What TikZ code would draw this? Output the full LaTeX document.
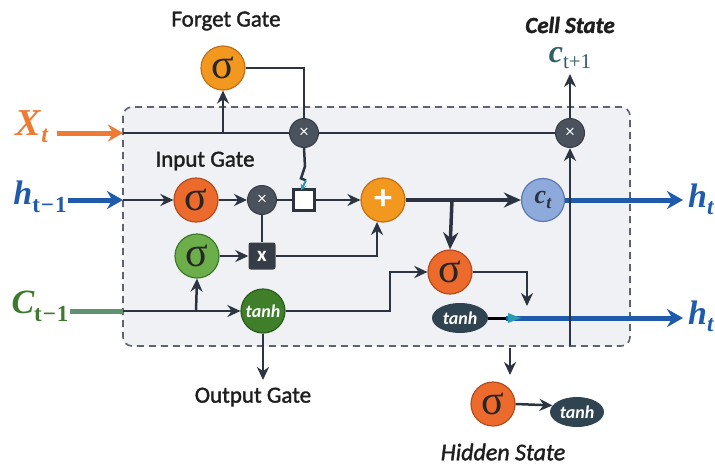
\documentclass[tikz,border=0pt]{standalone}
\usepackage{fontspec}
\setmainfont{Carlito}
\newfontfamily\semib{Carlito}[FakeBold=1.6]
\newfontfamily\symfont{Liberation Serif}
\usetikzlibrary{arrows.meta,shapes.geometric,calc}

\definecolor{lineC}{HTML}{2B3440}
\definecolor{boxfill}{HTML}{EFF1F4}
\definecolor{boxdash}{HTML}{5C6472}
\definecolor{orF}{HTML}{F3981F}
\definecolor{orD}{HTML}{C0701A}
\definecolor{orrF}{HTML}{EC6A2C}
\definecolor{orrD}{HTML}{B54C1F}
\definecolor{grF}{HTML}{6CAE4A}
\definecolor{grD}{HTML}{3E7A2B}
\definecolor{tgF}{HTML}{3F7F2A}
\definecolor{tgD}{HTML}{2C5C1E}
\definecolor{mulF}{HTML}{4A525E}
\definecolor{mulD}{HTML}{363C46}
\definecolor{ctF}{HTML}{8EAADB}
\definecolor{ctD}{HTML}{5A78B5}
\definecolor{ellF}{HTML}{2F4350}
\definecolor{blueL}{HTML}{1F5BAA}
\definecolor{xtC}{HTML}{EE7A33}
\definecolor{cprevC}{HTML}{3E7A2E}
\definecolor{cprevL}{HTML}{5E9270}
\definecolor{cnextC}{HTML}{2F5F66}
\definecolor{tealC}{HTML}{2A9AB0}
\definecolor{txtC}{HTML}{1E1E1E}

\tikzset{
  gate/.style={circle, minimum size=44pt, inner sep=0pt, line width=1.2pt,
    font=\symfont\fontsize{42}{42}\selectfont, text=black!85},
  sigor/.style={gate, fill=orF, draw=orD},
  sigred/.style={gate, fill=orrF, draw=orrD},
  siggreen/.style={gate, fill=grF, draw=grD},
  tanhgreen/.style={gate, fill=tgF, draw=tgD, text=white,
    font=\itshape\bfseries\fontsize{18}{18}\selectfont},
  mulc/.style={circle, minimum size=29pt, inner sep=0pt, fill=mulF, draw=mulD,
    line width=1pt, text=white, font=\fontsize{18}{18}\selectfont},
  mulsq/.style={rectangle, rounded corners=2.5pt, minimum size=27pt, inner sep=0pt,
    fill=mulF!75!black, text=white, font=\bfseries\fontsize{21}{21}\selectfont},
  gatebox/.style={rectangle, minimum size=21pt, inner sep=0pt, draw=lineC,
    line width=2.2pt, fill=white},
  plusc/.style={gate, fill=orF, draw=orD, text=white,
    font=\bfseries\fontsize{36}{36}\selectfont},
  cellc/.style={gate, minimum size=43pt, fill=ctF, draw=ctD, text=lineC,
    font=\symfont\bfseries\itshape\fontsize{26}{26}\selectfont},
  tanhell/.style={ellipse, minimum width=56pt, minimum height=30pt, inner sep=0pt,
    fill=ellF, text=white, font=\itshape\bfseries\fontsize{18}{18}\selectfont},
  wire/.style={line width=2.5pt, draw=lineC},
  flow/.style={wire, -{Stealth[length=13pt,width=12pt]}},
  bigflow/.style={line width=3.5pt, draw=lineC, -{Stealth[length=17pt,width=15pt]}},
  bluearrow/.style={line width=5pt, draw=blueL, -{Stealth[length=16pt,width=18pt]}},
  caption/.style={text=txtC, font=\semib\fontsize{23}{23}\selectfont},
  icaption/.style={text=txtC, font=\semib\itshape\fontsize{24}{24}\selectfont},
  varlbl/.style={font=\symfont\bfseries\itshape\fontsize{34}{34}\selectfont, inner sep=0pt},
}

\begin{document}
\begin{tikzpicture}[x=1pt, y=-1pt]
  \useasboundingbox (0,0) rectangle (715,466);

  % LSTM cell body
  \draw[boxdash, dashed, line width=1.6pt, dash pattern=on 7pt off 5pt,
        rounded corners=9pt, fill=boxfill] (123,107) rectangle (630,346);

  % ---------- nodes ----------
  \node[sigor]   (fg)   at (223,68)  {σ};
  \node[mulc]    (cx1)  at (304,133) {×};
  \node[mulc]    (cx2)  at (570,133) {×};
  \node[sigred]  (ig)   at (196,200) {σ};
  \node[mulc]    (ix)   at (262,200) {×};
  \node[gatebox] (sq)   at (304,200) {};
  \node[plusc]   (plus) at (383,200) {+};
  \node[cellc]   (ct)   at (543,200) {c\raisebox{-5pt}{\fontsize{18}{18}\selectfont t}};
  \node[siggreen](gs)   at (197,256) {σ};
  \node[mulsq]   (gx)   at (262,256) {x};
  \node[tanhgreen](tg)  at (263,311) {tanh};
  \node[sigred]  (os)   at (450,272) {σ};
  \node[tanhell] (te)   at (460,318) {tanh};
  \node[sigred]  (hs)   at (493,404) {σ};
  \node[tanhell, minimum width=54pt] (he) at (577,412) {tanh};

  % ---------- labels ----------
  \node[caption]  (lfg) at (226,21)  {Forget Gate};
  \node[caption]  (lig) at (205,161) {Input Gate};
  \node[caption]  (log) at (253,397) {Output Gate};
  \node[icaption, font=\semib\bfseries\itshape\fontsize{23}{23}\selectfont, inner sep=0pt] (lcs) at (570,25) {Cell State};
  \node[icaption] (lhs) at (503,452) {Hidden State};

  \node[varlbl, text=xtC, font=\symfont\bfseries\itshape\fontsize{38}{38}\selectfont] (lxt) at (32,127)
    {X\raisebox{-7pt}{\fontsize{24}{24}\selectfont t}};
  \node[varlbl, text=blueL] (lh) at (40,197)
    {h\raisebox{-8pt}{\upshape\fontsize{23}{23}\selectfont t\kern1pt−\kern1pt1}};
  \node[varlbl, text=cprevC] (lc) at (40,306)
    {C\raisebox{-8pt}{\upshape\fontsize{23}{23}\selectfont t\kern1pt−\kern1pt1}};
  \node[varlbl, text=cnextC, font=\symfont\bfseries\itshape\fontsize{32}{32}\selectfont] (lcn) at (570,58)
    {c\raisebox{-6pt}{\upshape\mdseries\fontsize{21}{21}\selectfont t+1}};
  \node[varlbl, text=blueL, anchor=west] (lht1) at (688,199)
    {h\raisebox{-7pt}{\fontsize{23}{23}\selectfont t}};
  \node[varlbl, text=blueL, anchor=west] (lht2) at (688,316)
    {h\raisebox{-7pt}{\fontsize{23}{23}\selectfont t}};

  % ---------- free ends ----------
  \coordinate (xt0)  at (57,133);
  \coordinate (xin)  at (123,133);
  \coordinate (fb)   at (223,133);
  \coordinate (h0)   at (68,200);
  \coordinate (hin)  at (123,200);
  \coordinate (c0)   at (70,311);
  \coordinate (cin)  at (123,311);
  \coordinate (cb)   at (196,311);
  \coordinate (br)   at (452,200);
  \coordinate (vb)   at (570,346);
  \coordinate (ctop) at (570,74);
  \coordinate (ogo)  at (263,380);
  \coordinate (ht1)  at (683,200);
  \coordinate (ht2)  at (683,318);
  \coordinate (hb0)  at (510,348);
  \coordinate (hb1)  at (510,375);
  \coordinate (tip)  at (521,318);

  % ---------- external inputs ----------
  \draw[line width=5pt, draw=xtC, -{Stealth[length=15pt,width=17pt]}] (xt0) -- (xin);
  \draw[bluearrow] (h0) -- (hin);
  \draw[line width=5pt, draw=cprevL] (c0) -- (cin);

  % ---------- forget path ----------
  \draw[wire] (xin) -- (cx1.west);
  \draw[wire] (cx1.east) -- (cx2.west);
  \draw[flow] (fb) -- (fg.south);
  \draw[wire] (fg.east) -| (cx1.north);
  \draw[wire] (cx1.south) -- ($(sq.north)+(1,-22)$) -- ($(sq.north)+(-3,-10)$)
              -- ($(sq.north)+(2,-8)$);
  \draw[line width=2pt, draw=tealC, -{Stealth[length=6pt,width=6pt]}]
        ($(sq.north)+(2,-8)$) -- ($(sq.north)+(-3,2)$);

  % ---------- input path ----------
  \draw[flow] (hin) -- (ig.west);
  \draw[flow] (ig.east) -- (ix.west);
  \draw[wire] (ix.east) -- (sq.west);
  \draw[flow] (sq.east) -- (plus.west);
  \draw[wire] (ix.south) -- (gx.north);
  \draw[flow] (gs.east) -- (gx.west);
  \draw[flow] (gx.east) -| ($(plus.south west)+(10,6)$);
  \draw[bigflow] (plus.east) -- (ct.west);
  \draw[bigflow] (br) -- (os.north);

  % ---------- candidate / output path ----------
  \draw[flow] (cin) -- (tg.west);
  \draw[flow] (cb) -- (gs.south);
  \draw[flow] (tg.south) -- (ogo);
  \draw[flow] (tg.east) -- (390,311) |- (os.west);
  \draw[flow] (os.east) -| (527,306);

  % ---------- outputs ----------
  \draw[bluearrow] (ct.east) -- (ht1);
  \draw[line width=3pt, draw=black] (te.east) -- (506,318);
  \draw[bluearrow] (506,318) -- (ht2);
  \fill[tealC] (tip) -- ++(-13,-5) -- ++(0,10) -- cycle;
  \draw[flow] (vb) -- (cx2.south);
  \draw[flow] (cx2.north) -- (ctop);

  % ---------- hidden state ----------
  \draw[flow] (hb0) -- (hb1);
  \draw[flow] (hs.east) -- (he.165);
\end{tikzpicture}
\end{document}
